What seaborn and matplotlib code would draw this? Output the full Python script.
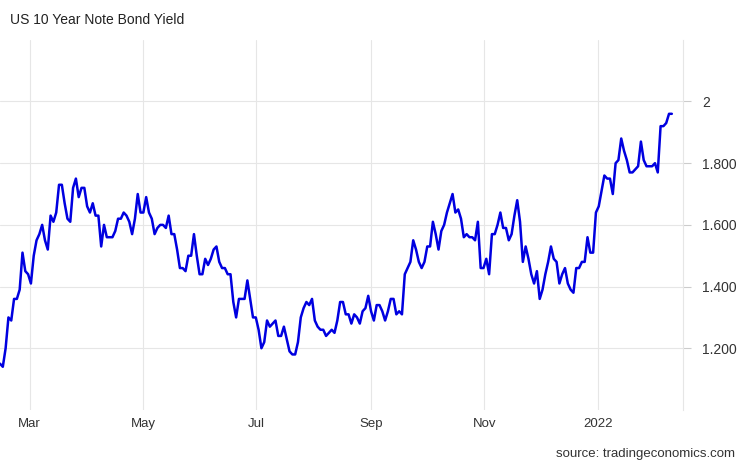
import numpy as np
import pandas as pd
import matplotlib
matplotlib.use("Agg")
import matplotlib.pyplot as plt
import matplotlib.dates as mdates
import seaborn as sns

# Yield readings, Feb 2021 -> Feb 2022 in order
yields = [
    1.15, 1.14, 1.20, 1.30, 1.29, 1.36, 1.36, 1.39, 1.51, 1.45, 1.44, 1.41,
    1.50, 1.55, 1.57, 1.60, 1.55, 1.52, 1.63, 1.61, 1.64, 1.73, 1.73, 1.67,
    1.62, 1.61, 1.72, 1.75, 1.69, 1.72, 1.72, 1.66, 1.64, 1.67, 1.63, 1.63,
    1.53, 1.60, 1.56, 1.56, 1.56, 1.58, 1.62, 1.62, 1.64, 1.63, 1.61, 1.57,
    1.62, 1.70, 1.64, 1.64, 1.69, 1.64, 1.62, 1.57, 1.59, 1.60, 1.60, 1.59,
    1.63, 1.57, 1.57, 1.52, 1.46, 1.46, 1.45, 1.50, 1.50, 1.57, 1.50, 1.44,
    1.44, 1.49, 1.47, 1.49, 1.52, 1.53, 1.48, 1.46, 1.46, 1.44, 1.44, 1.35,
    1.30, 1.36, 1.36, 1.36, 1.42, 1.36, 1.30, 1.30, 1.26, 1.20, 1.22, 1.29,
    1.27, 1.28, 1.29, 1.24, 1.24, 1.27, 1.23, 1.19, 1.18, 1.18, 1.22, 1.30,
    1.33, 1.35, 1.34, 1.36, 1.29, 1.27, 1.26, 1.26, 1.24, 1.25, 1.26, 1.25,
    1.29, 1.35, 1.35, 1.31, 1.31, 1.28, 1.31, 1.30, 1.28, 1.32, 1.33, 1.37,
    1.32, 1.29, 1.34, 1.34, 1.32, 1.29, 1.32, 1.36, 1.36, 1.31, 1.32, 1.31,
    1.44, 1.46, 1.48, 1.55, 1.52, 1.48, 1.46, 1.48, 1.53, 1.53, 1.61, 1.57,
    1.52, 1.58, 1.60, 1.64, 1.67, 1.70, 1.64, 1.65, 1.62, 1.56, 1.57, 1.56,
    1.56, 1.55, 1.61, 1.46, 1.46, 1.49, 1.44, 1.57, 1.57, 1.60, 1.64, 1.59,
    1.59, 1.55, 1.57, 1.63, 1.68, 1.61, 1.48, 1.53, 1.49, 1.44, 1.41, 1.45,
    1.36, 1.39, 1.44, 1.48, 1.53, 1.49, 1.48, 1.41, 1.44, 1.46, 1.41, 1.39,
    1.38, 1.46, 1.46, 1.48, 1.48, 1.56, 1.51, 1.51, 1.64, 1.66, 1.71, 1.76,
    1.75, 1.75, 1.70, 1.80, 1.81, 1.88, 1.84, 1.81, 1.77, 1.77, 1.78, 1.79,
    1.87, 1.81, 1.79, 1.79, 1.79, 1.80, 1.77, 1.92, 1.92, 1.93, 1.96, 1.96,
]
dates = pd.date_range("2021-02-13", "2022-02-10", periods=len(yields))
df = pd.DataFrame({"date": dates, "yield": yields})

y_ticks = [1.2, 1.4, 1.6, 1.8, 2.0]
y_labels = ["1.200", "1.400", "1.600", "1.800", "2"]
x_ticks = pd.to_datetime(["2021-03-01", "2021-05-01", "2021-07-01",
                          "2021-09-01", "2021-11-01", "2022-01-01"])
x_labels = ["Mar", "May", "Jul", "Sep", "Nov", "2022"]

sns.set_style("white")
plt.rcParams["font.family"] = ["Liberation Sans", "DejaVu Sans"]

fig = plt.figure(figsize=(7.46, 4.68), dpi=100)
ax = fig.add_axes([0.0, 0.124, 0.9155, 0.791])
sns.lineplot(data=df, x="date", y="yield", color="#0000e0", linewidth=1.8, ax=ax)

ax.set_xlim(pd.Timestamp("2021-02-13"), pd.Timestamp("2022-02-16"))
ax.set_ylim(1.0, 2.2)
ax.set_xticks(x_ticks)
ax.set_xticklabels(x_labels)
ax.set_yticks(y_ticks)
ax.set_yticklabels(y_labels)
ax.yaxis.tick_right()
ax.grid(True, color="#e6e6e6", linewidth=0.8)
ax.set_xlabel("")
ax.set_ylabel("")
for side in ["top", "left", "bottom"]:
    ax.spines[side].set_visible(False)
ax.spines["right"].set_color("#e6e6e6")
ax.tick_params(axis="y", direction="out", length=6, color="#cccccc",
               labelsize=10, labelcolor="#333333", pad=8)
ax.tick_params(axis="x", length=0, labelsize=9.5, labelcolor="#333333", pad=6)

fig.text(0.013, 0.957, "US 10 Year Note Bond Yield", fontsize=10, color="#222222",
         va="center")
fig.text(0.985, 0.018, "source: tradingeconomics.com", fontsize=9.5, color="#333333",
         ha="right", va="bottom")

fig.savefig("out.png", dpi=100)
